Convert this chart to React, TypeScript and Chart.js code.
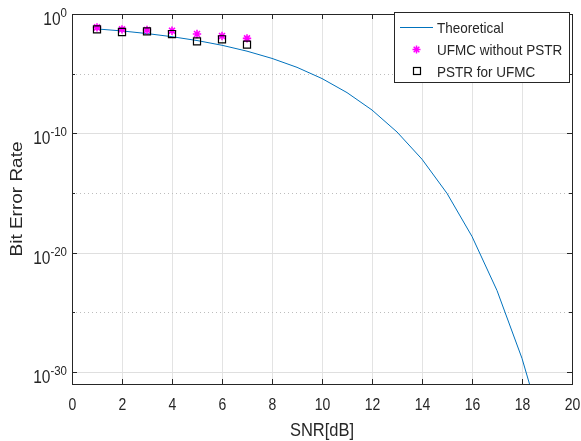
import React, { useEffect, useRef } from 'react';
import { Chart, registerables } from 'chart.js';

Chart.register(...registerables);

// ---- data ----
const snrTheory = [1, 2, 3, 4, 5, 6, 7, 8, 9, 10, 11, 12, 13, 14, 15, 16, 17, 18, 19, 20];
const berTheory = [
  5.6e-2, 3.8e-2, 2.3e-2, 1.25e-2, 6.0e-3, 2.4e-3, 7.7e-4, 1.9e-4, 3.4e-5, 3.9e-6,
  2.6e-7, 9.0e-9, 1.3e-10, 6.8e-13, 9.4e-16, 2.3e-19, 6.8e-24, 1.4e-29, 1.0e-36, 7.7e-46,
];
const snrSim = [1, 2, 3, 4, 5, 6, 7];
const berWithoutPSTR = [0.076, 0.052, 0.046, 0.04, 0.021, 0.0145, 0.0091];
const berPSTR = [0.052, 0.031, 0.035, 0.021, 0.0051, 0.0076, 0.0027];

const xTicks = [0, 2, 4, 6, 8, 10, 12, 14, 16, 18, 20];
const yMajorExp = [0, -10, -20, -30];
const yMinorExp = [-5, -15, -25];
const legendLabels = ['Theoretical', 'UFMC without PSTR', 'PSTR for UFMC'];
const xTitle = 'SNR[dB]';
const yTitle = 'Bit Error Rate';

const BLUE = '#0072BD';
const MAGENTA = '#FF00FF';
const AXIS = '#262626';
const FONT = '"Liberation Sans", Arial, Helvetica, sans-serif';
const S = 1.15; // vertical stretch of text in the reference

function sText(ctx: CanvasRenderingContext2D, str: string, x: number, y: number, size: number, align: CanvasTextAlign) {
  ctx.save();
  ctx.font = `${size}px ${FONT}`;
  ctx.textAlign = align;
  ctx.textBaseline = 'alphabetic';
  ctx.fillStyle = AXIS;
  ctx.translate(x, y);
  ctx.scale(1, S);
  ctx.fillText(str, 0, 0);
  ctx.restore();
}

function drawStar(ctx: CanvasRenderingContext2D, x: number, y: number, r: number) {
  ctx.beginPath();
  for (let i = 0; i < 4; i++) {
    const a = (i * Math.PI) / 4;
    ctx.moveTo(x - r * Math.cos(a), y - r * Math.sin(a));
    ctx.lineTo(x + r * Math.cos(a), y + r * Math.sin(a));
  }
  ctx.stroke();
}

const decorPlugin = {
  id: 'decor',
  beforeDatasetsDraw(chart: any) {
    const { ctx, chartArea: a, scales } = chart;
    const y = scales.y;
    ctx.save();
    ctx.lineWidth = 1;
    ctx.strokeStyle = '#dfdfdf';
    yMajorExp.forEach((e) => {
      const py = Math.round(y.getPixelForValue(Math.pow(10, e))) + 0.5;
      ctx.beginPath();
      ctx.moveTo(a.left, py);
      ctx.lineTo(a.right, py);
      ctx.stroke();
    });
    ctx.strokeStyle = '#bdbdbd';
    ctx.setLineDash([1, 3]);
    yMinorExp.forEach((e) => {
      const py = Math.round(y.getPixelForValue(Math.pow(10, e))) + 0.5;
      ctx.beginPath();
      ctx.moveTo(a.left, py);
      ctx.lineTo(a.right, py);
      ctx.stroke();
    });
    ctx.restore();
  },
  afterDraw(chart: any) {
    const { ctx, chartArea: a, scales } = chart;
    const x = scales.x;
    const y = scales.y;
    ctx.save();
    ctx.strokeStyle = AXIS;
    ctx.lineWidth = 1;
    ctx.strokeRect(Math.round(a.left) + 0.5, Math.round(a.top) + 0.5, Math.round(a.right - a.left), Math.round(a.bottom - a.top));
    xTicks.forEach((v) => {
      const px = Math.round(x.getPixelForValue(v)) + 0.5;
      ctx.beginPath();
      ctx.moveTo(px, a.bottom);
      ctx.lineTo(px, a.bottom - 5);
      ctx.moveTo(px, a.top);
      ctx.lineTo(px, a.top + 5);
      ctx.stroke();
      sText(ctx, String(v), px, a.bottom + 26, 14, 'center');
    });
    yMajorExp.forEach((e) => {
      const py = Math.round(y.getPixelForValue(Math.pow(10, e))) + 0.5;
      ctx.beginPath();
      ctx.moveTo(a.left, py);
      ctx.lineTo(a.left + 5, py);
      ctx.moveTo(a.right, py);
      ctx.lineTo(a.right - 5, py);
      ctx.stroke();
      const expStr = e === 0 ? '0' : '-' + String(-e);
      ctx.font = `11.5px ${FONT}`;
      const ew = ctx.measureText(expStr).width;
      const right = a.left - 5;
      sText(ctx, expStr, right, py + 2.5, 11.5, 'right');
      sText(ctx, '10', right - ew, py + 10.5, 15.5, 'right');
    });
    yMinorExp.forEach((e) => {
      const py = Math.round(y.getPixelForValue(Math.pow(10, e))) + 0.5;
      ctx.beginPath();
      ctx.moveTo(a.left, py);
      ctx.lineTo(a.left + 3, py);
      ctx.moveTo(a.right, py);
      ctx.lineTo(a.right - 3, py);
      ctx.stroke();
    });
    sText(ctx, xTitle, (a.left + a.right) / 2, 436, 16.5, 'center');
    ctx.save();
    ctx.font = `16.5px ${FONT}`;
    ctx.fillStyle = AXIS;
    ctx.textAlign = 'center';
    ctx.textBaseline = 'alphabetic';
    ctx.translate(22, (a.top + a.bottom) / 2);
    ctx.rotate(-Math.PI / 2);
    ctx.scale(S, 1);
    ctx.fillText(yTitle, 0, 0);
    ctx.restore();

    // legend
    const lx = 394.5, ly = 12.5, lw = 175, lh = 70;
    ctx.fillStyle = '#ffffff';
    ctx.fillRect(lx, ly, lw, lh);
    ctx.strokeStyle = AXIS;
    ctx.lineWidth = 1;
    ctx.strokeRect(lx, ly, lw, lh);
    const rows = [27, 49, 71];
    ctx.strokeStyle = BLUE;
    ctx.beginPath();
    ctx.moveTo(400, rows[0] + 0.5);
    ctx.lineTo(433, rows[0] + 0.5);
    ctx.stroke();
    ctx.strokeStyle = MAGENTA;
    ctx.lineWidth = 1.5;
    drawStar(ctx, 416.5, rows[1] + 0.5, 4);
    ctx.strokeStyle = '#000000';
    ctx.lineWidth = 1.2;
    ctx.strokeRect(413.5, rows[2] - 3.5, 7, 7);
    legendLabels.forEach((t, i) => {
      sText(ctx, t, 437, rows[i] + 5.5, 13.5, 'left');
    });
    ctx.restore();
  },
};

export default function App() {
  const ref = useRef<HTMLCanvasElement | null>(null);
  useEffect(() => {
    document.body.style.margin = '0';
    const canvas = ref.current;
    if (!canvas) return;
    const chart = new Chart(canvas, {
      type: 'line',
      data: {
        datasets: [
          {
            label: legendLabels[0],
            data: snrTheory.map((v, i) => ({ x: v, y: berTheory[i] })),
            borderColor: BLUE,
            borderWidth: 1,
            pointRadius: 0,
            tension: 0,
            fill: false,
            order: 2,
          },
          {
            label: legendLabels[1],
            data: snrSim.map((v, i) => ({ x: v, y: berWithoutPSTR[i] })),
            showLine: false,
            pointStyle: 'star',
            pointRadius: 4.2,
            pointBorderColor: MAGENTA,
            pointBorderWidth: 1.6,
            borderColor: MAGENTA,
            order: 1,
          },
          {
            label: legendLabels[2],
            data: snrSim.map((v, i) => ({ x: v, y: berPSTR[i] })),
            showLine: false,
            pointStyle: 'rect',
            pointRadius: 5,
            pointBorderColor: '#000000',
            pointBackgroundColor: 'rgba(0,0,0,0)',
            pointBorderWidth: 1.2,
            borderColor: '#000000',
            order: 0,
          },
        ],
      },
      options: {
        animation: false,
        responsive: false,
        devicePixelRatio: 1,
        layout: { padding: { top: 14, right: 9, left: 0, bottom: 0 } },
        plugins: { legend: { display: false }, tooltip: { enabled: false } },
        scales: {
          x: {
            type: 'linear',
            min: 0,
            max: 20,
            ticks: { stepSize: 2, display: false },
            grid: { color: '#e3e3e3', drawTicks: false, lineWidth: 1 },
            border: { display: false },
            afterFit: (s: any) => {
              s.height = 57;
            },
          },
          y: {
            type: 'logarithmic',
            min: 1e-31,
            max: 1,
            ticks: { display: false },
            grid: { display: false },
            border: { display: false },
            afterFit: (s: any) => {
              s.width = 72;
            },
          },
        },
      },
      plugins: [decorPlugin],
    } as any);
    return () => chart.destroy();
  }, []);
  return (
    <div style={{ width: 581, height: 441, background: '#fff' }}>
      <canvas ref={ref} width={581} height={441} />
    </div>
  );
}
